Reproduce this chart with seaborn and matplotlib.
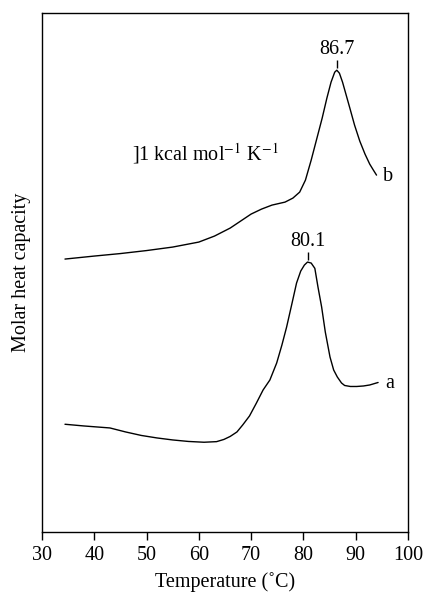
import pandas as pd
import matplotlib
matplotlib.use("Agg")
import matplotlib.pyplot as plt
import seaborn as sns

# Values (y in arbitrary heat-capacity units)
temp_a = [34.4, 38, 43, 46, 49, 52, 55, 58, 61, 63.4, 64.8, 66, 67.3, 68.4, 69.7,
          71, 72.3, 73.6, 74.9, 75.9, 76.8, 77.8, 78.7, 79.5, 80.2, 80.8, 81.5,
          82.2, 82.8, 83.5, 84.2, 85.1, 85.8, 86.5, 87.3, 87.9, 89, 90.2, 91.5,
          92.7, 94.3]
cp_a = [107.7, 106, 104, 100, 96.5, 94, 92, 90.5, 89.7, 90.3, 92.5, 95.5, 100, 107,
        116, 128.7, 142, 152, 169, 187, 205, 228, 249, 261, 267, 270, 269, 263.7,
        245, 225, 200, 175, 162, 155, 149, 146.5, 145.5, 145.5, 146, 147, 149.5]

temp_b = [34.4, 40, 45, 50, 55, 60, 63, 66, 70, 72, 74, 76.5, 78, 79.3, 80.4, 81.5,
          82.6, 83.6, 84.5, 85.3, 86.0, 86.4, 86.9, 87.5, 88.2, 88.9, 89.8, 90.8,
          91.8, 92.7, 93.4, 94.0]
cp_b = [273, 276, 278.5, 281.5, 285, 290, 296, 304, 318, 323, 327, 330, 334, 340,
        352, 372, 394, 414, 434, 450, 460, 462, 459, 450, 437, 424, 407, 391, 378,
        368, 362, 357]

peak_labels = {"a": "80.1", "b": "86.7"}
scale_label = r"]1 kcal mol$^{-1}$ K$^{-1}$"

df = pd.concat([
    pd.DataFrame({"Temperature": temp_a, "Cp": cp_a, "sample": "a"}),
    pd.DataFrame({"Temperature": temp_b, "Cp": cp_b, "sample": "b"}),
])

sns.set_theme(style="ticks")
plt.rcParams["font.family"] = ["Liberation Serif", "DejaVu Serif"]
plt.rcParams["mathtext.fontset"] = "stix"
plt.rcParams["text.color"] = "black"
plt.rcParams["axes.labelcolor"] = "black"

fs = 14.5

fig = plt.figure(figsize=(4.24, 6.01), dpi=100)
ax = fig.add_axes([0.099, 0.115, 0.863, 0.863])

sns.lineplot(data=df, x="Temperature", y="Cp", units="sample", estimator=None,
             color="black", linewidth=1.0, sort=False, ax=ax)

for s, grp in df.groupby("sample"):
    top = grp.loc[grp["Cp"].idxmax()]
    ax.vlines(top["Temperature"], top["Cp"] + 2, top["Cp"] + 10, color="black", lw=1.0)
    ax.text(top["Temperature"], top["Cp"] + 11, peak_labels[s], ha="center",
            va="bottom", fontsize=fs)
    last = grp.iloc[-1]
    ax.text(last["Temperature"] + 1.3, last["Cp"] - 1, s, ha="left", va="center",
            fontsize=fs)

ax.text(47.2, 379, scale_label, ha="left", va="center", fontsize=fs)

ax.set_xlim(30, 100)
ax.set_ylim(0, 519)
ax.set_xticks(range(30, 101, 10))
ax.set_yticks([])
ax.tick_params(axis="x", direction="out", length=6, width=1, labelsize=fs,
               colors="black", pad=4)
for sp in ax.spines.values():
    sp.set_visible(True)
    sp.set_linewidth(1.0)
    sp.set_color("black")
ax.set_xlabel("Temperature (˚C)", fontsize=fs, labelpad=5)
ax.set_ylabel("Molar heat capacity", fontsize=fs, labelpad=8)

fig.savefig("out.png", dpi=100)
